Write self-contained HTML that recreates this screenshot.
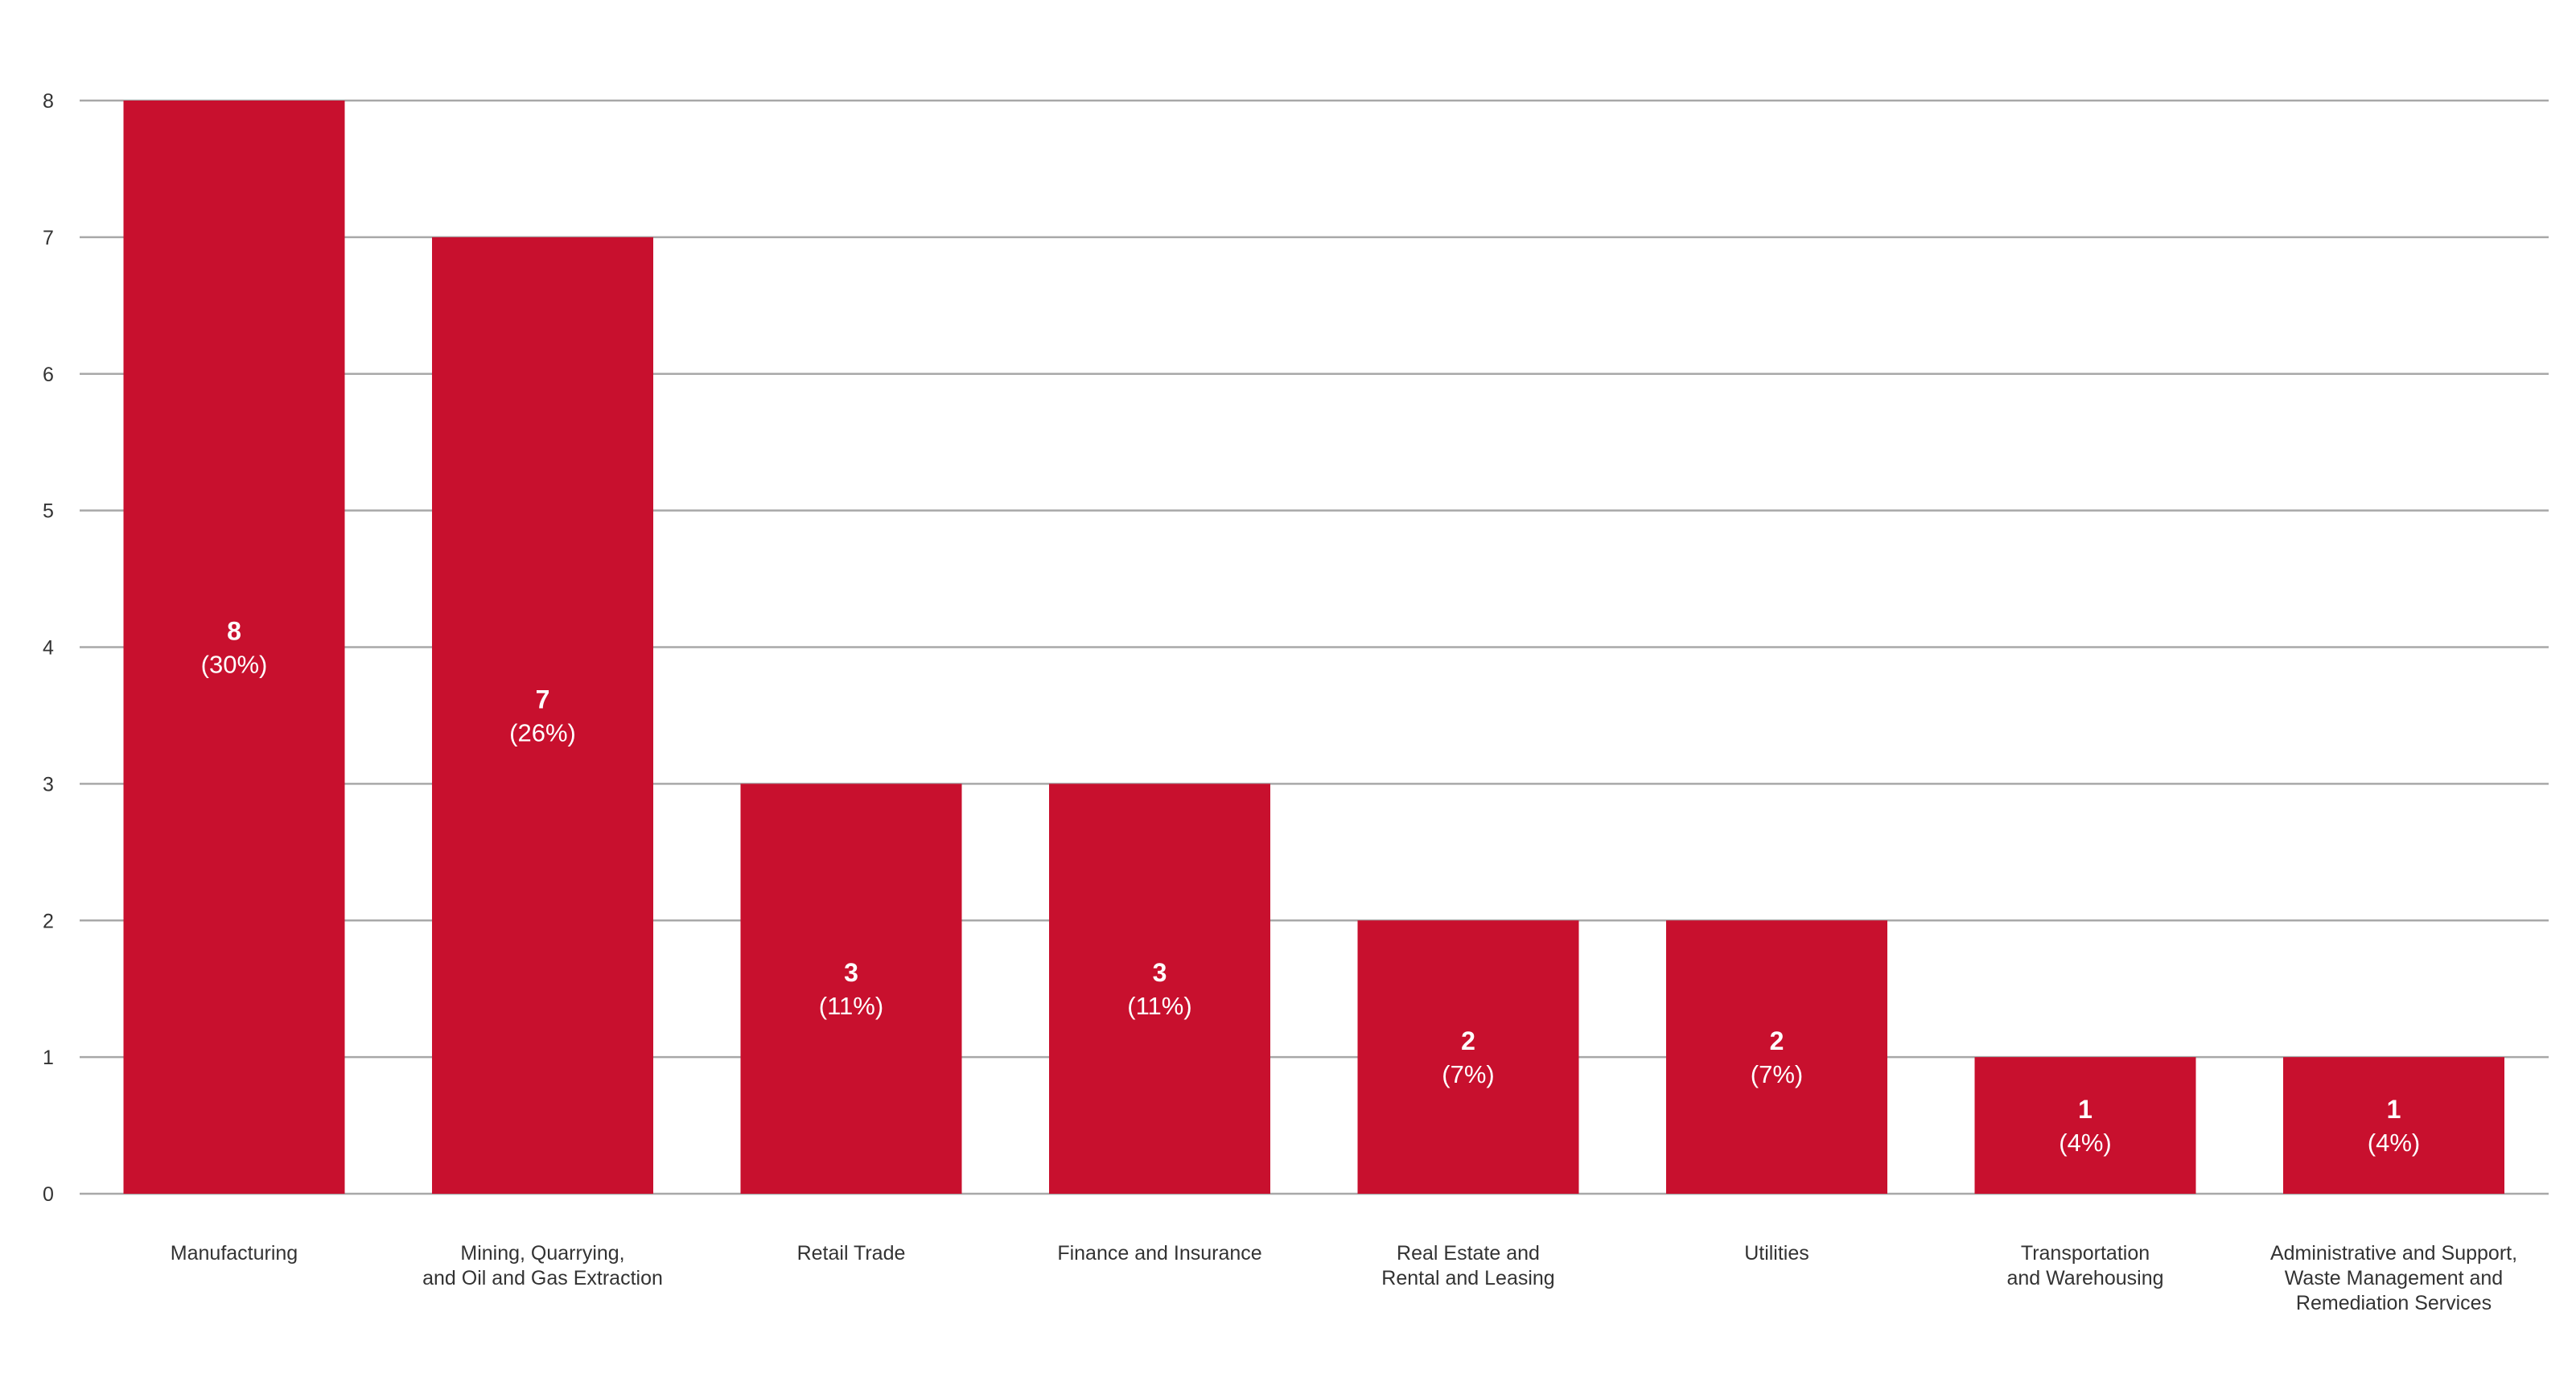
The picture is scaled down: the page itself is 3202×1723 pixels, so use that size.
<!DOCTYPE html>
<html><head><meta charset="utf-8"><style>
html,body{margin:0;padding:0;background:#fff;}
svg{display:block;font-family:"Liberation Sans","DejaVu Sans",sans-serif;}
</style></head><body>
<svg id="chart" width="3202" height="1723" viewBox="0 0 3202 1723" xmlns="http://www.w3.org/2000/svg">
<g id="grid"></g>
<g id="yticks"></g>
<g id="bars"></g>
<g id="xlabels"></g>
</svg>
<script>
const categories = [["Manufacturing"],["Mining, Quarrying,","and Oil and Gas Extraction"],["Retail Trade"],["Finance and Insurance"],["Real Estate and","Rental and Leasing"],["Utilities"],["Transportation","and Warehousing"],["Administrative and Support,","Waste Management and","Remediation Services"]];
const values = [8,7,3,3,2,2,1,1];
const percentLabels = ["(30%)","(26%)","(11%)","(11%)","(7%)","(7%)","(4%)","(4%)"];
const yTicks = [0,1,2,3,4,5,6,7,8];

const NS="http://www.w3.org/2000/svg";
const plotL=99, plotR=3168, y0=1484, yTop=125, yMax=8;
const band=383.5, barW=275, firstCenter=291;
function y(v){return y0-(v/yMax)*(y0-yTop);}
function xc(i){return firstCenter+i*band;}
function mk(tag,attrs,parent){const e=document.createElementNS(NS,tag);for(const k in attrs)e.setAttribute(k,attrs[k]);parent.appendChild(e);return e;}

const grid=document.getElementById('grid'), yt=document.getElementById('yticks'), bars=document.getElementById('bars'), xl=document.getElementById('xlabels');
yTicks.forEach(t=>{
  const l=mk('line',{x1:plotL,x2:plotR,y1:y(t),y2:y(t),stroke:'#a8a8a8','stroke-width':2.5},grid);
  
  
  const tx=mk('text',{x:60,y:y(t)+9,'text-anchor':'middle','font-size':25,fill:'#333'},yt);
  tx.textContent=t;
  
  
});
values.forEach((v,i)=>{
  const r=mk('rect',{x:xc(i)-barW/2,y:y(v),width:barW,height:y0-y(v),fill:'#c8102e'},bars);
  
  
  const mid=(y(v)+y0)/2;
  const a=mk('text',{x:xc(i),y:mid-9,'text-anchor':'middle','font-size':32,'font-weight':'bold',fill:'#fff'},bars);
  a.textContent=v;
  
  
  const b=mk('text',{x:xc(i),y:mid+32,'text-anchor':'middle','font-size':31,fill:'#fff'},bars);
  b.textContent=percentLabels[i];
  
  
});
categories.forEach((lines,i)=>{
  lines.forEach((s,j)=>{
    const t=mk('text',{x:xc(i),y:1566+j*31,'text-anchor':'middle','font-size':25,fill:'#333'},xl);
    t.textContent=s;
    
    
  });
});
</script>
</body></html>
